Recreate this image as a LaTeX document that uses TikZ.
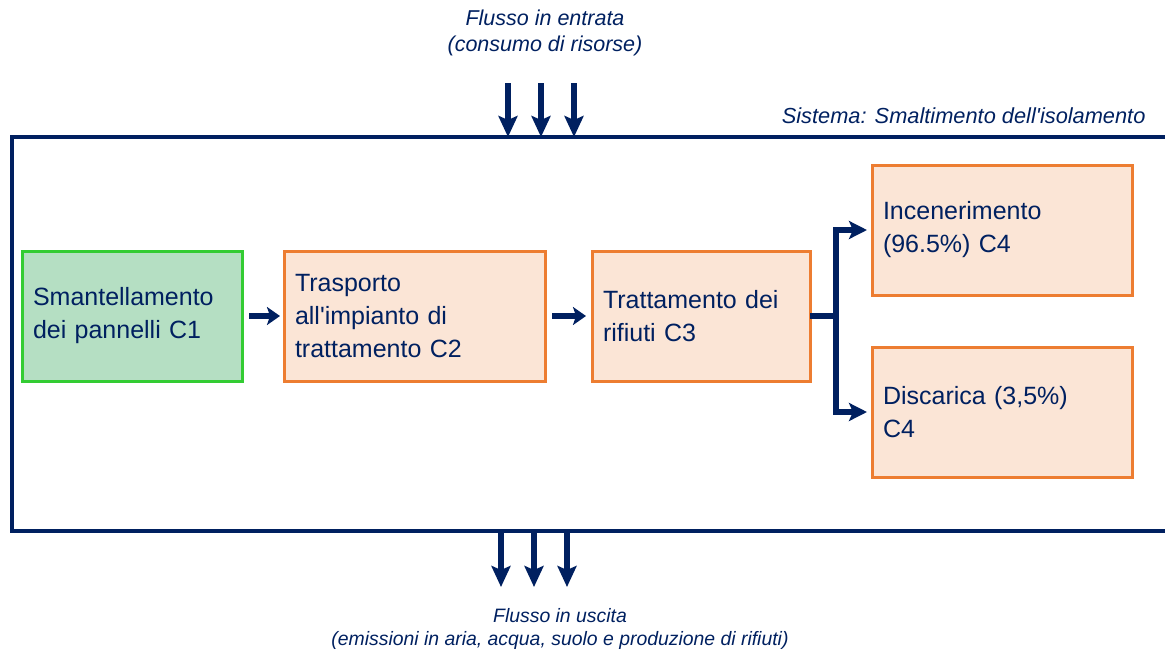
\documentclass[tikz,border=0pt]{standalone}
\usepackage{fontspec}
\setmainfont{Liberation Sans}
\usetikzlibrary{arrows.meta,positioning}
\definecolor{navy}{HTML}{002060}
\definecolor{stageline}{HTML}{ED7D31}
\definecolor{stagefill}{HTML}{FBE5D6}
\definecolor{startline}{HTML}{33CC33}
\definecolor{startfill}{HTML}{B5DFC3}
\tikzset{
  stage/.style={draw=stageline, fill=stagefill, line width=3pt, text=navy,
    align=left, inner xsep=11pt, inner ysep=0pt, outer sep=0pt,
    minimum height=130pt, anchor=north west,
    font=\fontsize{25}{33}\selectfont},
  start/.style={stage, draw=startline, fill=startfill},
  sysbox/.style={draw=navy, line width=4pt, outer sep=0pt, anchor=north west},
  lbl/.style={text=navy, align=center, font=\itshape\fontsize{21.5}{26}\selectfont},
  flow/.style={navy, line width=5.5pt, -{Stealth[length=21pt,width=19pt,inset=4pt]}},
  step flow/.style={navy, line width=5.5pt, -{Stealth[length=13pt,width=18pt,inset=3pt]}},
  branch flow/.style={navy, line width=5.5pt, -{Stealth[length=18pt,width=18pt,inset=4pt]}}
}
\begin{document}
\begin{tikzpicture}[x=1pt,y=-1pt]
  \useasboundingbox (0,0) rectangle (1165,651);
  % system boundary
  \node[sysbox, minimum width=1220pt, minimum height=394pt] (sys) at (12,137) {};
  \node[lbl, anchor=east, font=\itshape\fontsize{21.8}{26}\selectfont] (syslbl) at (1149,116)
    {Sistema: Smaltimento dell\textquotesingle isolamento};
  % stages
  \node[start, text width=198pt] (c1) at (22,251) {Smantellamento\\dei pannelli C1};
  \node[stage, text width=239pt] (c2) at (284,251) {Trasporto\\all\textquotesingle impianto di\\trattamento C2};
  \node[stage, text width=196pt] (c3) at (592,251) {Trattamento dei\\rifiuti C3};
  \node[stage, text width=238pt] (c4a) at (872,165) {Incenerimento\\(96.5\%) C4};
  \node[stage, text width=238pt] (c4b) at (872,347) {Discarica (3,5\%)\\C4};
  \draw[step flow, shorten <=7pt, shorten >=4pt] (c1) -- (c2);
  \draw[step flow, shorten <=7pt, shorten >=6pt] (c2) -- (c3);
  % branch to end of life
  \coordinate (br) at (836,316);
  \draw[navy, line width=5.5pt] (c3.east) -- (br);
  \draw[branch flow, shorten >=5pt] (br) |- (c4a.west);
  \draw[branch flow, shorten >=5pt] (br) |- (c4b.west);
  % input flows
  \node[lbl] (inlbl) at (545,33) {Flusso in entrata\\(consumo di risorse)};
  \coordinate (in1) at (508,83);
  \coordinate (in2) at (541,83);
  \coordinate (in3) at (574,83);
  \draw[flow] (in1) -- (in1 |- sys.north);
  \draw[flow] (in2) -- (in2 |- sys.north);
  \draw[flow] (in3) -- (in3 |- sys.north);
  % output flows
  \coordinate (out1) at (501,587);
  \coordinate (out2) at (534,587);
  \coordinate (out3) at (567,587);
  \draw[flow] (out1 |- sys.south) -- (out1);
  \draw[flow] (out2 |- sys.south) -- (out2);
  \draw[flow] (out3 |- sys.south) -- (out3);
  \node[lbl, font=\itshape\fontsize{19.4}{23}\selectfont] (outlbl) at (560,629)
    {Flusso in uscita\\(emissioni in aria, acqua, suolo e produzione di rifiuti)};
\end{tikzpicture}
\end{document}
